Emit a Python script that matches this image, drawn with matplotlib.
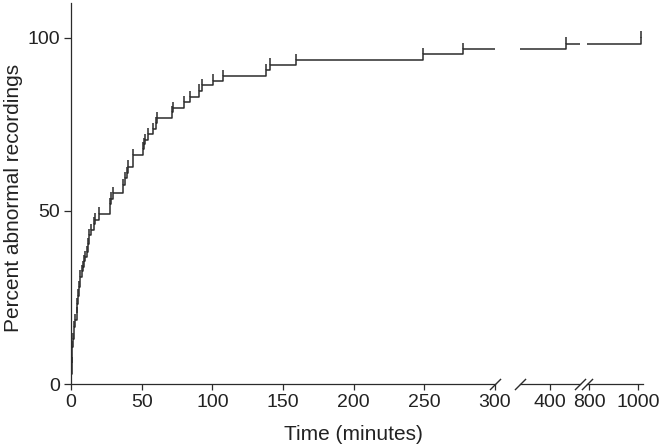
import matplotlib.pyplot as plt

plt.rcParams['font.family'] = ['Liberation Sans', 'DejaVu Sans']

# event times (minutes) and cumulative percent after each event
times = [0, 0.3, 0.6, 1.0, 1.5, 2.0, 3.0, 4.0, 4.5, 5.0, 5.5, 6.5, 7.5, 8.5,
         9.5, 10.0, 11.0, 12.3, 12.9, 14.5, 16.0, 17.0, 20.0, 27.6, 28.5,
         30.0, 37.0, 38.5, 39.5, 40.2, 43.6, 50.7, 51.5, 52.4, 54.7, 57.8,
         59.9, 60.6, 71.2, 72.4, 80.0, 84.2, 90.8, 92.5, 100.7, 107.8, 138.0,
         140.8, 159.2, 248.9, 277.2, 429.0, 1010.0]
levels = [0, 3, 6, 10.7, 13, 16.5, 18.5, 20.4, 23, 25.5, 28, 31, 32.5, 33.8,
          35.5, 36.7, 38.1, 40.5, 42.9, 44.5, 46.3, 47.5, 49.2, 52, 53.5,
          55.1, 57.5, 59.5, 61, 62.8, 66, 68, 69.3, 70.5, 72.2, 73.7,
          75.3, 76.8, 78.5, 79.7, 81.4, 82.8, 84.7, 86.2, 87.6, 89.0, 90.6,
          92.2, 93.6, 95.3, 96.7, 98.3, 100]

seg_limits = [(0, 300), (345, 455), (792, 1019)]
seg_ticks = [[0, 50, 100, 150, 200, 250, 300], [400], [800, 1000]]
yticks = [0, 50, 100]

ink = '#2b2b2b'
fig = plt.figure(figsize=(6.64, 4.47), dpi=100)
bottom, height = 0.1409, 0.8523
boxes = [(0.1069, 0.6386), (0.7831, 0.0904), (0.8840, 0.0843)]

axes = []
for i, ((left, width), lim, ticks) in enumerate(zip(boxes, seg_limits, seg_ticks)):
    ax = fig.add_axes([left, bottom, width, height])
    ax.step(times, levels, where='post', color=ink, lw=1.1)
    ax.vlines(times[1:], levels[1:], [v + 1.8 for v in levels[1:]], color=ink, lw=1.1)
    ax.set_xlim(*lim)
    ax.set_ylim(0, 110)
    ax.set_xticks(ticks)
    for s in ['top', 'right']:
        ax.spines[s].set_visible(False)
    ax.spines['bottom'].set_color(ink)
    ax.spines['bottom'].set_linewidth(0.9)
    ax.tick_params(axis='x', direction='out', length=4, width=0.9, colors=ink,
                   labelsize=14, pad=3, labelcolor='#222')
    if i == 0:
        ax.spines['left'].set_color(ink)
        ax.spines['left'].set_linewidth(0.9)
        ax.set_yticks(yticks)
        ax.tick_params(axis='y', direction='out', length=5, width=0.9, colors=ink,
                       labelsize=14, pad=3, labelcolor='#222')
    else:
        ax.spines['left'].set_visible(False)
        ax.set_yticks([])
    ax.patch.set_alpha(0)
    axes.append(ax)

# break marks
slash = [(-1, -1), (1, 1)]
marks = [(axes[0], 1.0), (axes[1], 0.0), (axes[1], 1.0), (axes[2], 0.0)]
for ax, xf in marks:
    ax.plot([xf], [0], marker=slash, markersize=8, markeredgewidth=1.0,
            color=ink, transform=ax.transAxes, clip_on=False)

fig.text(0.532, 0.027, 'Time (minutes)', ha='center', va='center', fontsize=15, color='#222')
fig.text(0.0196, 0.557, 'Percent abnormal recordings', ha='center', va='center',
         rotation=90, fontsize=15, color='#222')

fig.savefig('out.png', dpi=100)
plt.close(fig)
